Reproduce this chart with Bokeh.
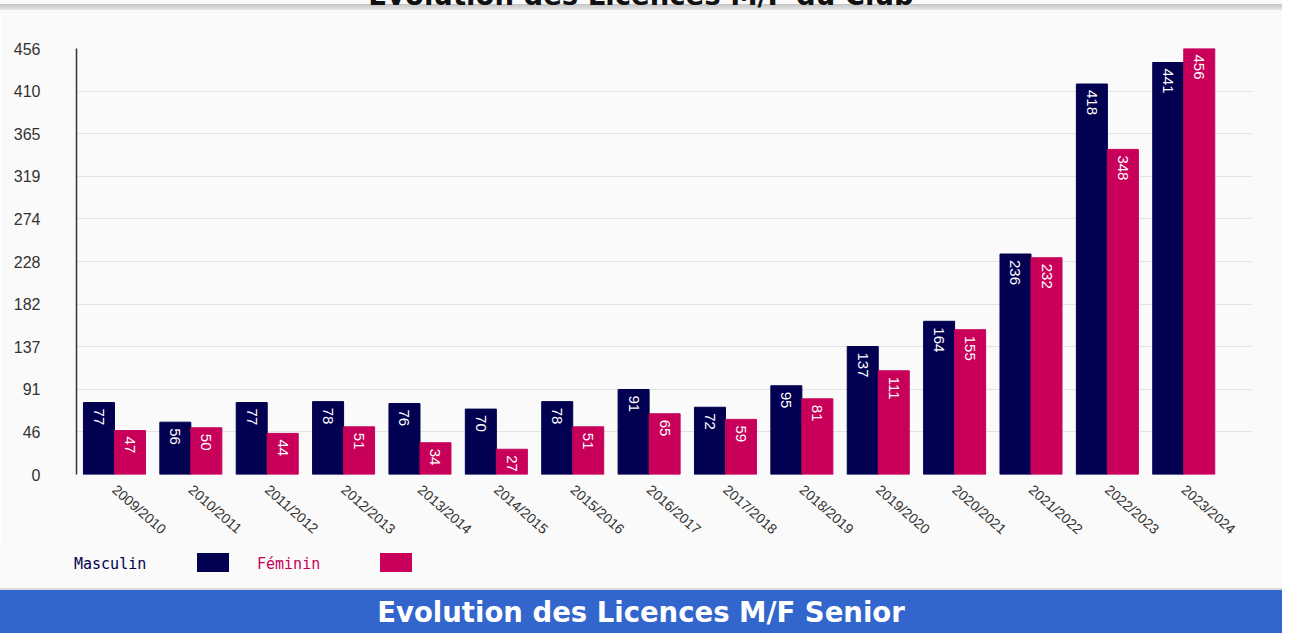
import numpy as np
from bokeh.plotting import figure
from bokeh.models import ColumnDataSource, FixedTicker, NumeralTickFormatter, Div, Range1d
from bokeh.layouts import column
from bokeh.embed import file_html
from bokeh.resources import INLINE
from bokeh.core.properties import value

seasons = ["2009/2010", "2010/2011", "2011/2012", "2012/2013", "2013/2014",
           "2014/2015", "2015/2016", "2016/2017", "2017/2018", "2018/2019",
           "2019/2020", "2020/2021", "2021/2022", "2022/2023", "2023/2024"]
masculin = [77, 56, 77, 78, 76, 70, 78, 91, 72, 95, 137, 164, 236, 418, 441]
feminin = [47, 50, 44, 51, 34, 27, 51, 65, 59, 81, 111, 155, 232, 348, 456]
y_ticks = [0, 45.6, 91.2, 136.8, 182.4, 228, 273.6, 319.2, 364.8, 410.4, 456]
series_names = ["Masculin", "Féminin"]
top_title = "Evolution des Licences M/F du Club"
bottom_title = "Evolution des Licences M/F Senior"

NAVY = "#020050"
PINK = "#C8005A"
BG = "#FAFAFA"
W = 1282

idx = np.arange(len(seasons))
bar_w = 0.406
src = ColumnDataSource(dict(
    xm=idx - bar_w / 2, xf=idx + bar_w / 2,
    m=masculin, f=feminin,
    ml=[str(v) for v in masculin], fl=[str(v) for v in feminin],
))

p = figure(width=W, height=532, x_range=Range1d(-0.497, 14.9), y_range=Range1d(0, 456),
           output_backend="svg", toolbar_location=None,
           min_border_top=34, min_border_left=76, min_border_right=30, min_border_bottom=70,
           background_fill_color=BG, border_fill_color=BG, outline_line_color=None)

p.vbar(x="xm", top="m", width=bar_w, source=src, fill_color=NAVY, line_color=NAVY)
p.vbar(x="xf", top="f", width=bar_w, source=src, fill_color=PINK, line_color=PINK)

for xcol, ycol, tcol in (("xm", "m", "ml"), ("xf", "f", "fl")):
    p.text(x=xcol, y=ycol, text=tcol, source=src, angle=-np.pi / 2,
           text_align="left", text_baseline="middle", y_offset=6,
           text_color="white", text_font=value("Liberation Sans"), text_font_size="15px")

p.xgrid.grid_line_color = None
p.ygrid.grid_line_color = "#E2E2E2"
p.ygrid.grid_line_width = 1

ya = p.yaxis[0]
ya.ticker = FixedTicker(ticks=y_ticks)
ya.formatter = NumeralTickFormatter(format="0")
ya.major_tick_line_color = None
ya.minor_tick_line_color = None
ya.axis_line_color = "#333333"
ya.axis_line_width = 1.5
ya.major_label_standoff = 30
ya.major_label_text_font = "Liberation Sans"
ya.major_label_text_font_size = "16px"
ya.major_label_text_color = "#333333"

xa = p.xaxis[0]
xa.ticker = FixedTicker(ticks=list(idx))
xa.major_label_overrides = {int(i): s for i, s in zip(idx, seasons)}
xa.major_tick_line_color = None
xa.minor_tick_line_color = None
xa.axis_line_color = None
xa.major_label_orientation = -0.72
xa.major_label_standoff = 7
xa.major_label_text_font = "Liberation Sans"
xa.major_label_text_font_size = "14px"
xa.major_label_text_color = "#333333"

top_div = Div(width=W, height=14, margin=0, text=f"""
<div style="position:relative;width:{W}px;height:14px;overflow:hidden;background:{BG};">
  <div style="position:absolute;left:0;top:4px;width:{W}px;height:6px;background:linear-gradient(#c4c4c4,#e6e6e6);"></div>
  <div style="position:absolute;left:0;top:-19px;width:{W}px;text-align:center;font-family:'DejaVu Sans';font-weight:bold;font-size:27.5px;line-height:28px;color:#111;">{top_title}</div>
</div>""")

legend_div = Div(width=W, height=42, margin=0, text=f"""
<div style="position:relative;width:{W}px;height:42px;background:{BG};font-family:'DejaVu Sans Mono';font-size:15px;">
  <div style="position:absolute;left:74px;top:8px;color:{NAVY};">{series_names[0]}</div>
  <div style="position:absolute;left:197px;top:7px;width:32px;height:19px;background:{NAVY};"></div>
  <div style="position:absolute;left:257px;top:8px;color:{PINK};">{series_names[1]}</div>
  <div style="position:absolute;left:380px;top:7px;width:32px;height:19px;background:{PINK};"></div>
</div>""")

banner_div = Div(width=W, height=45, margin=0, text=f"""
<div style="position:relative;width:{W}px;height:45px;background:#3366CC;border-top:2px solid #d8d8d8;box-sizing:border-box;">
  <div style="position:absolute;left:0;top:7px;width:{W}px;text-align:center;font-family:'DejaVu Sans';font-weight:bold;font-size:27.5px;line-height:30px;color:white;">{bottom_title}</div>
</div>""")

layout = column(top_div, p, legend_div, banner_div, spacing=0, margin=0)

open("out.html", "w").write(file_html(layout, INLINE))
